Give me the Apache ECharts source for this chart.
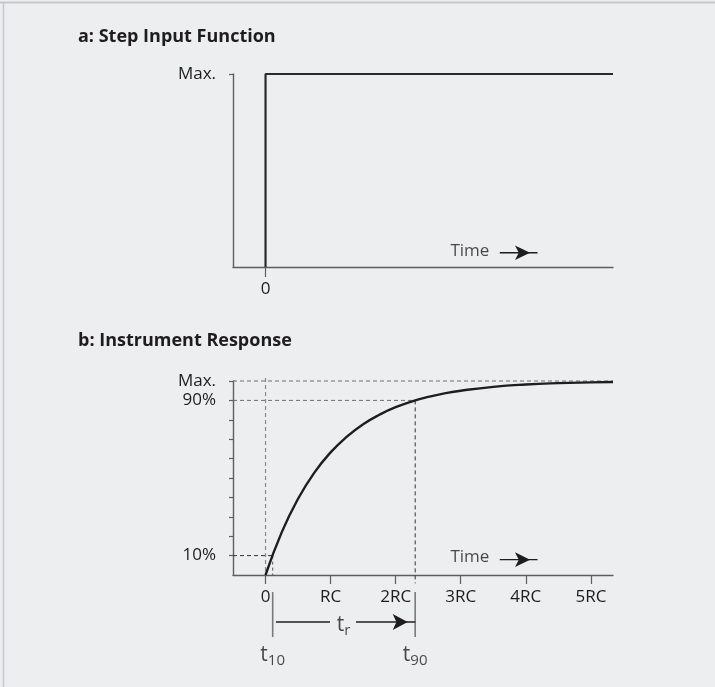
<!DOCTYPE html>
<html>
<head>
<meta charset="utf-8">
<title>Step input and instrument response</title>
<script src="https://cdn.jsdelivr.net/npm/echarts@6/dist/echarts.min.js"></script>
<style>
  html, body { margin: 0; padding: 0; background: #edeef0; }
  #chart { width: 715px; height: 687px; }
</style>
</head>
<body>
<div id="chart"></div>
<script>
// Time axis, in units of the RC time constant
const timeMin = -0.5;
const timeMax = 5.34;
const timeTicks = [0, 1, 2, 3, 4, 5];
const timeTickLabels = ['0', 'RC', '2RC', '3RC', '4RC', '5RC'];

// a: step input (fraction of max)
const stepTime = [0, 0, 5.34];
const stepLevel = [0, 1, 1];

// b: instrument response (% of max)
const responseTime = [0, 0.25, 0.5, 0.75, 1, 1.25, 1.5, 1.75, 2, 2.3, 2.5, 2.75, 3, 3.5, 4, 4.5, 5, 5.34];
const responsePct  = [0, 22.1, 39.3, 52.8, 63.2, 71.3, 77.7, 82.6, 86.5, 90, 91.8, 93.6, 95, 97, 98.2, 98.9, 99.3, 99.5];
const responseTicks = [10, 20, 30, 40, 50, 60, 70, 80, 90, 100];
const responseLabelValues = [10, 90, 100];
const responseLabelText = { 10: '10%', 90: '90%', 100: 'Max.' };

// rise-time points (RC units) and their levels (%)
const t10 = 0.11;
const t90 = 2.3;
const level10 = 10;
const level90 = 90;

const ink = '#1f1c1d';
const axisGray = '#5e5e5e';
const guideGray = '#6e6e6e';
const font = 'Open Sans';

const chart = echarts.init(document.getElementById('chart'), null, { renderer: 'canvas' });

function timeAxis(grid, ticks, labels, tickLen) {
  return {
    type: 'value', gridIndex: grid, min: timeMin, max: timeMax,
    axisLine: { show: true, onZero: false, lineStyle: { color: axisGray, width: 1.4 } },
    axisTick: { show: true, customValues: ticks, length: tickLen, lineStyle: { color: axisGray, width: 1.2 } },
    axisLabel: {
      show: true, customValues: ticks, margin: 14,
      formatter: v => labels[ticks.indexOf(Math.round(v))],
      color: ink, fontFamily: font, fontSize: 17
    },
    splitLine: { show: false }
  };
}

function levelAxis(grid, max, ticks, labelValues, fmt) {
  return {
    type: 'value', gridIndex: grid, min: 0, max: max,
    axisLine: { show: true, onZero: false, lineStyle: { color: axisGray, width: 1.4 } },
    axisTick: { show: true, customValues: ticks, length: 4, lineStyle: { color: axisGray, width: 1.2 } },
    axisLabel: {
      show: true, customValues: labelValues, margin: 17,
      formatter: fmt, color: ink, fontFamily: font, fontSize: 17
    },
    splitLine: { show: false }
  };
}

// a straight guide segment drawn through the grid's own scales
function guide(idx, xs, ys, lineStyle) {
  return {
    type: 'line', xAxisIndex: idx, yAxisIndex: idx,
    data: xs.map((x, i) => [x, ys[i]]),
    symbol: 'none', clip: false, silent: true, animation: false,
    lineStyle: lineStyle, z: 3
  };
}

// horizontal arrow ending with a filled head at x1
function arrow(idx, x0, x1, y, head) {
  return {
    type: 'line', xAxisIndex: idx, yAxisIndex: idx,
    data: [
      { value: [x0, y], symbol: 'none' },
      { value: [x1, y], symbol: 'arrow', symbolSize: head, symbolRotate: -90, symbolOffset: [-head[1] / 2, 0] }
    ],
    showSymbol: true, showAllSymbol: true, clip: false, silent: true, animation: false,
    lineStyle: { color: ink, width: 1.4 }, itemStyle: { color: ink }, z: 4
  };
}

function textMark(idx, x, y, formatter, rich) {
  return {
    type: 'scatter', xAxisIndex: idx, yAxisIndex: idx, data: [[x, y]],
    symbolSize: 0, clip: false, silent: true, animation: false,
    label: { show: true, position: 'inside', formatter: formatter, color: ink, fontFamily: font, fontSize: 17, rich: rich }
  };
}

const subRich = {
  t: { fontFamily: font, fontSize: 21, color: ink },
  s: { fontFamily: font, fontSize: 15, color: ink, padding: [10, 0, 0, 0] }
};

const option = {
  backgroundColor: '#edeef0',
  animation: false,
  title: [
    { text: 'a: Step Input Function', left: 73, top: 23,
      textStyle: { fontFamily: font, fontSize: 18, fontWeight: 'bold', color: ink } },
    { text: 'b: Instrument Response', left: 73, top: 327,
      textStyle: { fontFamily: font, fontSize: 18, fontWeight: 'bold', color: ink } }
  ],
  grid: [
    { left: 233, right: 102, top: 74, height: 193 },
    { left: 233, right: 102, top: 381, height: 194 }
  ],
  xAxis: [
    timeAxis(0, [0], ['0'], 10),
    timeAxis(1, timeTicks, timeTickLabels, 9)
  ],
  yAxis: [
    levelAxis(0, 1, [1], [1], () => 'Max.'),
    levelAxis(1, 100, responseTicks, responseLabelValues, v => responseLabelText[Math.round(v)])
  ],
  graphic: [
    { type: 'line', shape: { x1: 0, y1: 2.5, x2: 715, y2: 2.5 }, style: { stroke: '#c6c7c9', lineWidth: 2 }, silent: true },
    { type: 'line', shape: { x1: 3.5, y1: 2, x2: 3.5, y2: 687 }, style: { stroke: '#c6c7c9', lineWidth: 1.5 }, silent: true }
  ],
  series: [
    // a: step
    {
      type: 'line', xAxisIndex: 0, yAxisIndex: 0,
      data: stepTime.map((t, i) => [t, stepLevel[i]]),
      symbol: 'none', silent: true, clip: false,
      lineStyle: { color: '#2b2b2b', width: 2.2 }, z: 5
    },
    arrow(0, 3.6, 4.18, 0.074, [11, 15]),
    textMark(0, 3.14, 0.08, 'Time'),

    // b: guides
    guide(1, [timeMin, timeMax], [100, 100], { color: guideGray, width: 1, type: [4, 3] }),
    guide(1, [timeMin, t90], [level90, level90], { color: guideGray, width: 1, type: [4, 3] }),
    guide(1, [timeMin, t10], [level10, level10], { color: '#333', width: 1, type: [4, 3] }),
    guide(1, [0, 0], [101.5, 0], { color: '#8a8a8a', width: 1.2, type: [4, 3] }),
    guide(1, [t10, t10], [level10, 0], { color: '#555', width: 1, type: [3, 3] }),
    guide(1, [t90, t90], [level90, -4.3], { color: '#333', width: 1, type: [4, 3] }),

    // b: response curve
    {
      type: 'line', xAxisIndex: 1, yAxisIndex: 1,
      data: responseTime.map((t, i) => [t, responsePct[i]]),
      symbol: 'none', smooth: true, silent: true,
      lineStyle: { color: '#1e1e1e', width: 2.4 }, z: 6
    },

    // b: rise time span
    guide(1, [t10, t10], [-8.8, -32], { color: '#7a7a7a', width: 1.6 }),
    guide(1, [t90, t90], [-8.8, -32], { color: '#7a7a7a', width: 1.6 }),
    guide(1, [0.16, 0.99], [-24.2, -24.2], { color: ink, width: 1.4 }),
    arrow(1, 1.39, t90, -24.2, [12, 15]),
    textMark(1, 1.2, -26, '{t|t}{s|r}', subRich),
    textMark(1, t10, -41.5, '{t|t}{s|10}', subRich),
    textMark(1, t90, -41.5, '{t|t}{s|90}', subRich),

    arrow(1, 3.6, 4.18, 7.9, [11, 15]),
    textMark(1, 3.14, 9, 'Time')
  ]
};

chart.setOption(option);
</script>
</body>
</html>
